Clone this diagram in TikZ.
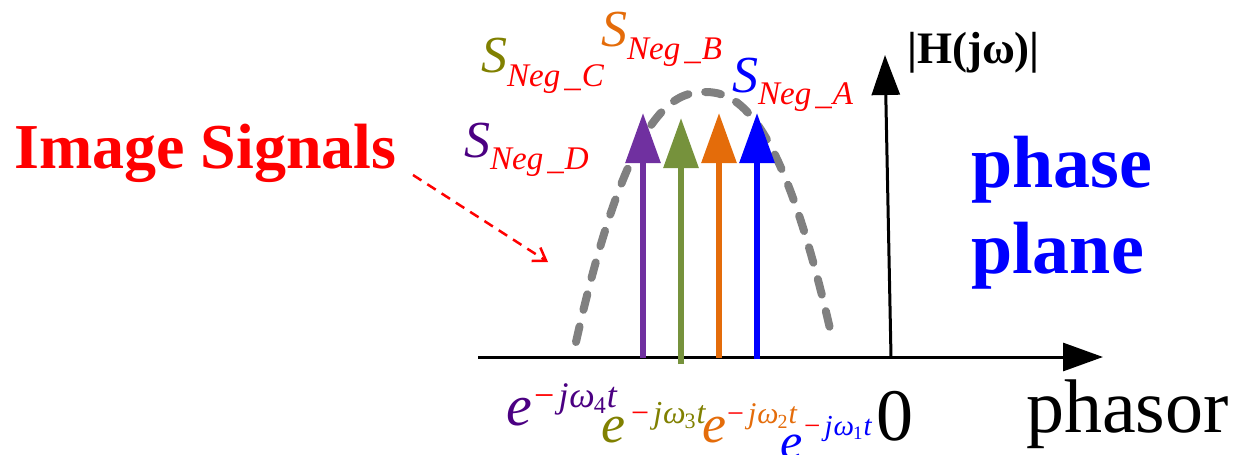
\documentclass[tikz,border=0pt]{standalone}
\usepackage{fontspec}
\setmainfont{Liberation Serif}
\usetikzlibrary{arrows.meta}
\definecolor{cpurple}{RGB}{112,48,160}
\definecolor{cgreen}{RGB}{118,146,60}
\definecolor{corange}{RGB}{228,108,10}
\definecolor{cblue}{RGB}{0,0,255}
\definecolor{colive}{RGB}{128,128,0}
\definecolor{cdpurple}{RGB}{75,0,130}
\definecolor{cgray}{RGB}{128,128,128}
\definecolor{cred}{RGB}{255,0,0}
\newcommand{\fs}[1]{\fontsize{#1}{#1}\selectfont}
% #1 colour, #2 digit, #3 size, #4 digit size, #5 digit drop
\newcommand{\expo}[5]{{\color{cred}\fs{#3}−}\kern4pt{\color{#1}\fs{#3}\itshape j\kern1ptω\kern-1pt\raisebox{-#5}{\fs{#4}\upshape #2}\kern1pt t}}
\tikzset{
  lbl/.style={inner sep=0pt, anchor=base west},
  axis/.style={line width=3pt, -{Triangle[length=40pt,width=28pt]}},
  sig/.style={line width=6pt, -{Triangle[length=50pt,width=34pt]}},
}
\begin{document}
\begin{tikzpicture}[x=1pt,y=-1pt]
\useasboundingbox (0,0) rectangle (1242,455);
% axes
\coordinate (ho) at (478,357);
\coordinate (hx) at (1103,357);
\coordinate (vo) at (891,357);
\coordinate (vy) at (885,55);
\draw[axis] (ho) -- (hx);
\draw[axis] (vo) -- (vy);
% gray dashed envelope
\draw[cgray, line width=8pt, line cap=round, dash pattern=on 16pt off 17pt]
  plot[domain=576:833, samples=100, smooth] (\x, {92 + 250*pow(abs((\x-704.5)/128.5),2.3)});
% signal arrows
\coordinate (pa0) at (643,358); \coordinate (pa1) at (643,113);
\coordinate (ga0) at (681,364); \coordinate (ga1) at (681,118);
\coordinate (oa0) at (719,358); \coordinate (oa1) at (719,113);
\coordinate (ba0) at (757,359); \coordinate (ba1) at (757,113);
\draw[sig, cpurple] (pa0) -- (pa1);
\draw[sig, cgreen] (ga0) -- (ga1);
\draw[sig, corange] (oa0) -- (oa1);
\draw[sig, cblue] (ba0) -- (ba1);
% top labels
\node[lbl, text=cblue] (sA) at (732,92) {\fs{52}\itshape S};
\node[lbl, text=cred] (sAs) at (758,104) {\fs{33}\itshape Neg\kern4pt\_\kern1ptA};
\node[lbl, text=corange] (sB) at (601,46) {\fs{52}\itshape S};
\node[lbl, text=cred] (sBs) at (627,59) {\fs{33}\itshape Neg\kern4pt\_\kern1ptB};
\node[lbl, text=colive] (sC) at (481,72) {\fs{52}\itshape S};
\node[lbl, text=cred] (sCs) at (507,86) {\fs{33}\itshape Neg\kern4pt\_\kern1ptC};
\node[lbl, text=cdpurple] (sD) at (464,157) {\fs{52}\itshape S};
\node[lbl, text=cred] (sDs) at (490,169) {\fs{33}\itshape Neg\kern4pt\_\kern1ptD};
% image signals
\node[lbl, text=cred] (img) at (14,168) {\fs{64}\bfseries Image Signals};
\coordinate (da0) at (413,175);
\coordinate (da1) at (548,262);
\draw[cred, line width=2.5pt, dash pattern=on 10pt off 7pt, -{Straight Barb[length=12pt,width=16pt]}] (da0) -- (da1);
% H label
\node[lbl] (H) at (907,63) {\fs{45}\bfseries |H(jω)|};
% phase plane
\node[lbl, text=cblue] (ph1) at (971,187) {\fs{74}\bfseries phase};
\node[lbl, text=cblue] (ph2) at (971,273) {\fs{74}\bfseries plane};
% bottom labels
\node[lbl, text=cdpurple] (e4) at (506,425) {\fs{58}\itshape e};
\node[lbl] (e4s) at (534,407) {\expo{cdpurple}{4}{36}{24}{6pt}};
\node[lbl, text=colive] (e3) at (601,442) {\fs{54}\itshape e};
\node[lbl] (e3s) at (631,423) {\expo{colive}{3}{32}{22}{5pt}};
\node[lbl, text=corange] (e2) at (702,442) {\fs{54}\itshape e};
\node[lbl] (e2s) at (727,423) {\expo{corange}{2}{30}{20}{5pt}};
\node[lbl, text=cblue] (e1) at (780,458) {\fs{50}\itshape e};
\node[lbl] (e1s) at (804,435) {\expo{cblue}{1}{29}{19}{4pt}};
\node[lbl] (zero) at (876,440) {\fs{74}0};
\node[lbl] (phasor) at (1026,432) {\fs{76}phasor};
\end{tikzpicture}
\end{document}
